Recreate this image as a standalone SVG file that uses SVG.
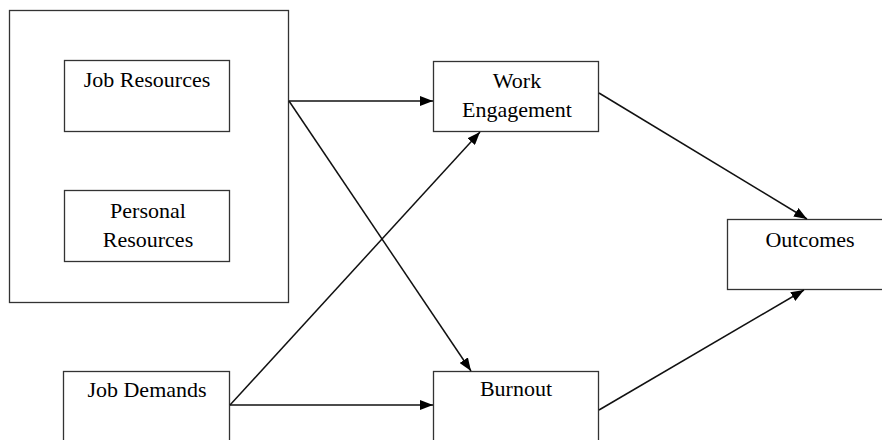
<svg xmlns="http://www.w3.org/2000/svg" width="882" height="440" viewBox="0 0 882 440">
  <style>
    .box { fill: #ffffff; stroke: #333333; stroke-width: 1.3; }
    .lbl { font-family: "Liberation Serif", "Times New Roman", serif; font-size: 22px; fill: #000000; text-anchor: middle; }
    .edge { stroke: #111111; stroke-width: 1.5; fill: none; marker-end: url(#arrow); }
  </style>
  <defs>
    <marker id="arrow" viewBox="0 0 13 10" refX="13" refY="5" markerWidth="13" markerHeight="10" markerUnits="userSpaceOnUse" orient="auto">
      <path d="M0,0 L13,5 L0,10 Z" fill="#000000"/>
    </marker>
  </defs>
  <rect width="882" height="440" fill="#ffffff"/>

  <g id="resources">
    <rect class="box" x="9.5" y="10.5" width="279" height="292"/>
  </g>
  <g id="job-resources">
    <rect class="box" x="64.5" y="60.5" width="165" height="71"/>
    <text class="lbl" x="147" y="87">Job Resources</text>
  </g>
  <g id="personal-resources">
    <rect class="box" x="64.5" y="190.5" width="165" height="71"/>
    <text class="lbl" x="148" y="218">Personal</text>
    <text class="lbl" x="148" y="247">Resources</text>
  </g>
  <g id="job-demands">
    <rect class="box" x="63.5" y="371.5" width="166" height="72"/>
    <text class="lbl" x="147" y="397">Job Demands</text>
  </g>
  <g id="work-engagement">
    <rect class="box" x="433.5" y="61.5" width="165" height="70"/>
    <text class="lbl" x="517" y="88">Work</text>
    <text class="lbl" x="517" y="117">Engagement</text>
  </g>
  <g id="burnout">
    <rect class="box" x="433.5" y="371.5" width="165" height="72"/>
    <text class="lbl" x="516" y="396">Burnout</text>
  </g>
  <g id="outcomes">
    <rect class="box" x="727.5" y="219.5" width="170" height="70"/>
    <text class="lbl" x="810" y="247">Outcomes</text>
  </g>

  <g id="connectors">
    <line class="edge" x1="289" y1="101" x2="433" y2="101"/>
    <line class="edge" x1="289" y1="101" x2="471" y2="371"/>
    <line class="edge" x1="230" y1="405" x2="480" y2="132"/>
    <line class="edge" x1="230" y1="405" x2="433" y2="405"/>
    <line class="edge" x1="599" y1="93" x2="807" y2="219"/>
    <line class="edge" x1="599" y1="410" x2="804" y2="290"/>
  </g>
</svg>
